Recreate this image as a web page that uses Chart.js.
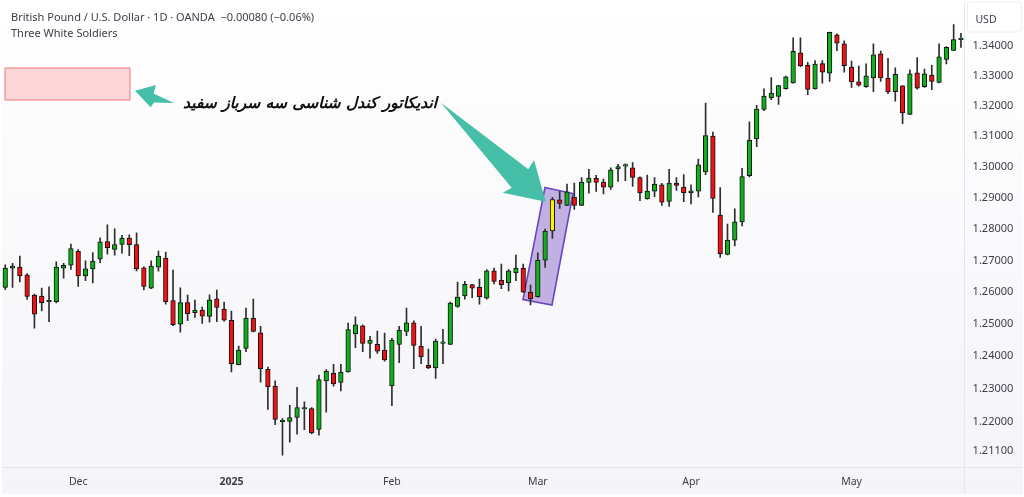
<!DOCTYPE html>
<html>
<head>
<meta charset="utf-8">
<title>GBP/USD Three White Soldiers</title>
<script src="https://cdn.jsdelivr.net/npm/chart.js@4"></script>
<style>
  html, body { margin: 0; padding: 0; background: #fff; }
  #wrap { width: 1024px; height: 497px; }
</style>
</head>
<body>
<div id="wrap"><canvas id="chart" width="1024" height="497"></canvas></div>
<script>
// daily candles
const opens = [1.2615,1.2676,1.2679,1.2655,1.2591,1.2588,1.2570,1.2570,1.2676,1.2685,1.2729,1.2651,1.2673,1.2704,1.2760,1.2735,1.2751,1.2771,1.2751,1.2677,1.2613,1.2679,1.2708,1.2574,1.2500,1.2567,1.2536,1.2544,
  1.2524,1.2579,1.2547,1.2512,1.2374,1.2424,1.2518,1.2473,1.2360,1.2307,1.2199,1.2200,1.2212,1.2238,1.2239,1.2176,1.2324,1.2347,1.2319,1.2352,1.2470,1.2495,1.2440,1.2437,1.2419,
  1.2309,1.2437,1.2477,1.2504,1.2431,1.2372,1.2364,1.2440,1.2437,1.2555,1.2588,1.2624,1.2615,1.2581,1.2667,1.2637,1.2629,1.2661,1.2676,1.2600,1.2585,
  1.2701,1.2794,1.2894,1.2876,1.2902,1.2876,1.2950,1.2963,1.2951,1.2935,1.2994,1.3003,1.2997,1.2966,1.2897,1.2922,1.2942,1.2889,1.2948,1.2935,1.2916,
  1.2922,1.2984,1.3101,1.2845,1.2719,1.2765,1.2823,1.2972,1.3091,1.3188,1.3227,1.3231,1.3257,1.3276,1.3376,1.3334,1.3256,1.3340,
  1.3308,1.3436,1.3406,1.3328,1.3279,1.3263,1.3292,1.3372,1.3291,1.3247,1.3266,1.3172,1.3309,1.3263,1.3302,1.3277,1.3354,1.3384,1.3420];
const highs = [1.2686,1.2691,1.2714,1.2659,1.2594,1.2613,1.2617,1.2696,1.2691,1.2752,1.2735,1.2699,1.2725,1.2772,1.2814,1.2801,1.2780,1.2782,1.2788,1.2680,1.2699,1.2730,1.2727,1.2670,1.2614,1.2591,1.2575,1.2553,
  1.2592,1.2607,1.2569,1.2541,1.2432,1.2550,1.2578,1.2493,1.2367,1.2324,1.2209,1.2249,1.2304,1.2260,1.2242,1.2342,1.2359,1.2375,1.2375,1.2503,1.2523,1.2498,1.2462,1.2478,1.2472,
  1.2456,1.2493,1.2550,1.2510,1.2493,1.2422,1.2453,1.2484,1.2569,1.2632,1.2634,1.2625,1.2641,1.2671,1.2676,1.2689,1.2671,1.2717,1.2689,1.2622,1.2724,
  1.2800,1.2902,1.2921,1.2945,1.2948,1.2966,1.2992,1.2973,1.2961,1.2997,1.3009,1.3010,1.3014,1.2968,1.2974,1.2966,1.2947,1.2992,1.2966,1.2975,1.2942,
  1.3026,1.3209,1.3114,1.2933,1.2816,1.2865,1.2996,1.3147,1.3202,1.3256,1.3293,1.3268,1.3298,1.3426,1.3426,1.3344,1.3350,1.3350,
  1.3445,1.3439,1.3416,1.3348,1.3332,1.3339,1.3406,1.3382,1.3357,1.3326,1.3267,1.3319,1.3360,1.3322,1.3334,1.3406,1.3397,1.3470,1.3441];
const lows = [1.2608,1.2615,1.2632,1.2577,1.2487,1.2541,1.2508,1.2566,1.2644,1.2672,1.2618,1.2636,1.2629,1.2693,1.2720,1.2717,1.2723,1.2715,1.2667,1.2607,1.2611,1.2666,1.2562,1.2495,1.2475,1.2511,1.2521,1.2502,
  1.2506,1.2508,1.2509,1.2352,1.2373,1.2414,1.2476,1.2320,1.2237,1.2190,1.2098,1.2137,1.2161,1.2175,1.2162,1.2158,1.2228,1.2308,1.2293,1.2351,1.2427,1.2414,1.2394,1.2409,1.2385,
  1.2248,1.2380,1.2464,1.2362,1.2377,1.2362,1.2332,1.2377,1.2436,1.2552,1.2578,1.2583,1.2562,1.2578,1.2626,1.2611,1.2604,1.2636,1.2599,1.2560,1.2584,
  1.2678,1.2770,1.2866,1.2875,1.2863,1.2875,1.2915,1.2921,1.2913,1.2927,1.2953,1.2956,1.2937,1.2891,1.2896,1.2904,1.2876,1.2873,1.2924,1.2888,1.2881,
  1.2903,1.2975,1.2853,1.2710,1.2718,1.2746,1.2810,1.2968,1.3066,1.3184,1.3220,1.3205,1.3255,1.3275,1.3330,1.3237,1.3255,1.3275,
  1.3281,1.3383,1.3311,1.3261,1.3265,1.3261,1.3247,1.3281,1.3240,1.3215,1.3141,1.3171,1.3255,1.3261,1.3253,1.3276,1.3339,1.3383,1.3394];
const closes = [1.2676,1.2682,1.2651,1.2587,1.2531,1.2567,1.2572,1.2679,1.2685,1.2738,1.2651,1.2674,1.2698,1.2759,1.2741,1.2751,1.2771,1.2750,1.2673,1.2618,1.2682,1.2714,1.2570,1.2498,1.2567,1.2533,1.2544,1.2525,
  1.2576,1.2552,1.2512,1.2377,1.2419,1.2519,1.2477,1.2362,1.2306,1.2206,1.2200,1.2212,1.2242,1.2239,1.2165,1.2328,1.2354,1.2315,1.2351,1.2483,1.2498,1.2440,1.2450,1.2416,1.2389,
  1.2450,1.2481,1.2504,1.2434,1.2398,1.2364,1.2447,1.2442,1.2566,1.2585,1.2625,1.2613,1.2585,1.2667,1.2634,1.2624,1.2667,1.2676,1.2600,1.2579,1.2701,
  1.2794,1.2895,1.2882,1.2920,1.2876,1.2951,1.2964,1.2950,1.2935,1.2991,1.3001,1.3005,1.2966,1.2916,1.2922,1.2945,1.2886,1.2948,1.2940,1.2917,1.2923,
  1.3007,1.3102,1.2898,1.2722,1.2765,1.2823,1.2969,1.3088,1.3189,1.3232,1.3242,1.3267,1.3296,1.3381,1.3332,1.3254,1.3338,1.3311,
  1.3444,1.3408,1.3333,1.3279,1.3268,1.3299,1.3369,1.3292,1.3246,1.3304,1.3177,1.3306,1.3258,1.3306,1.3281,1.3362,1.3394,1.3420,1.3422];
const yellowCandle = 75;

const yTicks = [1.34,1.33,1.32,1.31,1.30,1.29,1.28,1.27,1.26,1.25,1.24,1.23,1.22,1.211];
const xTickBars = [10,31,53,73,94,116];
const xTickLabels = ["Dec","2025","Feb","Mar","Apr","May"];
const categories = opens.map((_, i) => i);

const GREEN = "#0fb01b", RED = "#f01212", YELLOW = "#fff000", TEAL = "#46bfa8";
const FONT = "'Noto Sans', sans-serif";

function polygon(ctx, pts, fill, stroke, lw) {
  ctx.beginPath();
  pts.forEach((p, i) => i ? ctx.lineTo(p[0], p[1]) : ctx.moveTo(p[0], p[1]));
  ctx.closePath();
  ctx.fillStyle = fill;
  ctx.fill();
  if (stroke) { ctx.strokeStyle = stroke; ctx.lineWidth = lw; ctx.stroke(); }
}

// page frame, separators and the highlight box behind the candles
const backdrop = {
  id: "backdrop",
  beforeDraw(chart) {
    const ctx = chart.ctx;
    const g = ctx.createLinearGradient(0, 0, 0, 497);
    g.addColorStop(0, "#ffffff");
    g.addColorStop(1, "#f4f4f9");
    ctx.save();
    ctx.fillStyle = "#ffffff";
    ctx.fillRect(0, 0, 1024, 497);
    ctx.fillStyle = g;
    ctx.fillRect(2, 2, 1021, 492);
    ctx.fillStyle = "#e3e6ef";
    ctx.fillRect(964, 2, 1, 492);
    ctx.fillRect(2, 467, 1021, 1);
    ctx.restore();
  },
  beforeDatasetsDraw(chart) {
    const ctx = chart.ctx;
    ctx.save();
    polygon(ctx, [[545,187.5],[573,193.5],[552,305],[523,299.5]], "#c1b1e2", "#6c45c2", 1.6);
    ctx.restore();
  }
};

// arrows, pink box and all free text on top
const notes = {
  id: "notes",
  afterDraw(chart) {
    const ctx = chart.ctx;
    ctx.save();
    polygon(ctx, [[5,68],[130,68],[130,100],[5,100]], "#fcd6d9", "#f0767d", 1);
    polygon(ctx, [[135,90.7],[156,85],[153.5,93.5],[174,103],[154,102.5],[150.7,107.3]], TEAL);
    polygon(ctx, [[441,102.7],[528.3,169.3],[534,160],[545.7,201.7],[502.7,192.7],[511.7,187.7]], TEAL);

    ctx.textBaseline = "middle";
    ctx.fillStyle = "#3c3f4a";
    ctx.textAlign = "left";
    ctx.font = "11px " + FONT;
    ctx.fillText("British Pound / U.S. Dollar · 1D · OANDA  −0.00080 (−0.06%)", 11, 17.5);
    ctx.fillText("Three White Soldiers", 11, 33.5);

    ctx.fillStyle = "#ffffff";
    ctx.strokeStyle = "#eceef4";
    ctx.lineWidth = 1;
    ctx.beginPath();
    ctx.roundRect(967.5, 2, 54, 30, 3);
    ctx.fill();
    ctx.stroke();
    ctx.fillStyle = "#3c3f4a";
    ctx.font = "10.5px " + FONT;
    ctx.textAlign = "center";
    ctx.fillText("USD", 986, 20);

    ctx.fillStyle = "#101010";
    ctx.font = "italic bold 15.5px 'DejaVu Sans'";
    ctx.direction = "rtl";
    ctx.textAlign = "right";
    ctx.fillText("اندیکاتور کندل شناسی سه سرباز سفید", 437, 104);
    ctx.restore();
  }
};

new Chart(document.getElementById("chart"), {
  type: "bar",
  data: {
    labels: categories,
    datasets: [
      {
        label: "wick",
        data: categories.map(i => [lows[i], highs[i]]),
        backgroundColor: "#2e2e2e",
        barThickness: 1,
        grouped: false,
        order: 2
      },
      {
        label: "body",
        data: categories.map(i => [opens[i], closes[i]]),
        backgroundColor: categories.map(i => {
          if (i === yellowCandle) return YELLOW;
          return closes[i] >= opens[i] ? GREEN : RED;
        }),
        borderColor: "#111",
        borderWidth: 1,
        borderSkipped: false,
        barThickness: 4.6,
        minBarLength: 1.5,
        grouped: false,
        order: 1
      }
    ]
  },
  plugins: [backdrop, notes],
  options: {
    responsive: false,
    animation: false,
    devicePixelRatio: 1,
    layout: { padding: { top: 4.6, left: 1.6, right: 0, bottom: 0 } },
    plugins: { legend: { display: false }, tooltip: { enabled: false } },
    scales: {
      x: {
        grid: { display: false },
        border: { display: false },
        afterFit(scale) { scale.height = 29; },
        afterBuildTicks(scale) { scale.ticks = xTickBars.map(v => ({ value: v })); },
        ticks: {
          autoSkip: false,
          maxRotation: 0,
          padding: 0,
          color: "#3c3f4a",
          font: c => ({ family: FONT, size: 10.5, weight: c.tick && c.tick.value === 31 ? "bold" : "normal" }),
          callback: v => xTickLabels[xTickBars.indexOf(v)]
        }
      },
      y: {
        type: "logarithmic",
        position: "right",
        bounds: "data",
        min: 1.2059,
        max: 1.3531,
        grid: { display: false },
        border: { display: false },
        afterFit(scale) { scale.width = 59.4; },
        afterBuildTicks(scale) { scale.ticks = yTicks.map(v => ({ value: v })); },
        ticks: {
          autoSkip: false,
          padding: 0,
          color: "#3c3f4a",
          font: { family: FONT, size: 11 },
          callback: v => v.toFixed(5)
        }
      }
    }
  }
});
</script>
</body>
</html>
